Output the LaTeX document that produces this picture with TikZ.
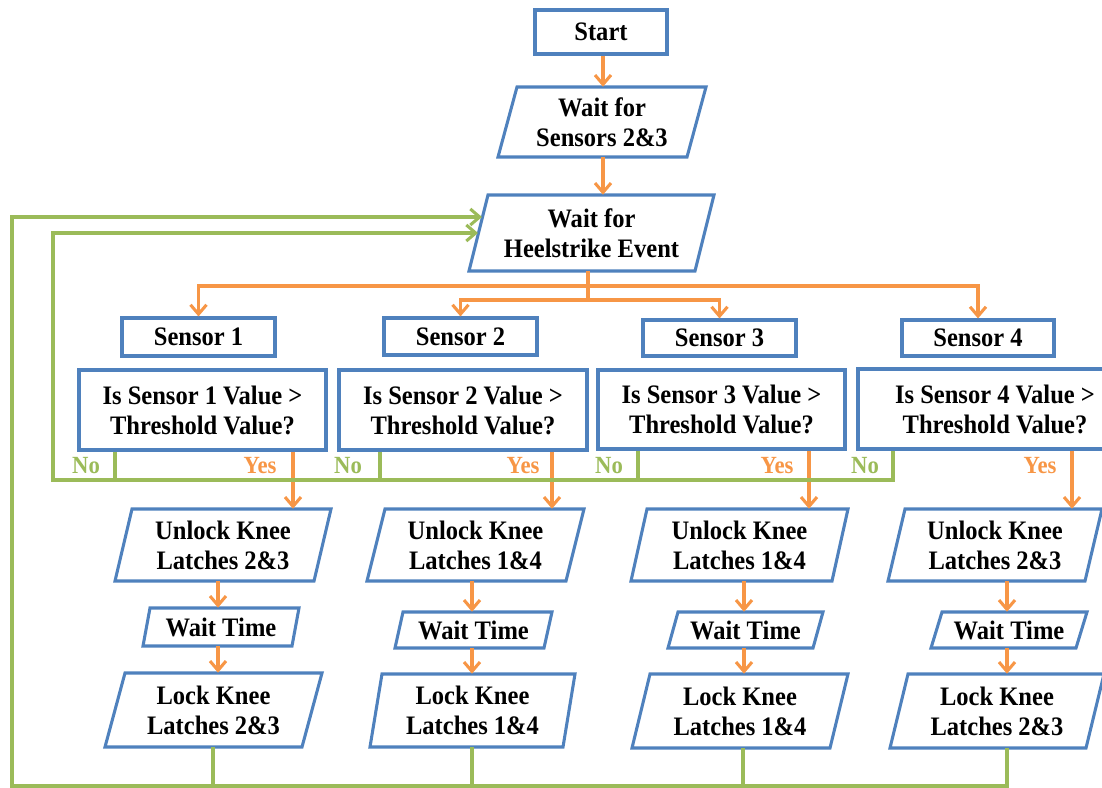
\documentclass[tikz,border=0pt]{standalone}
\usepackage{fontspec}
\setmainfont{Liberation Serif}[FakeStretch=0.92]
\usetikzlibrary{arrows.meta,calc}
\definecolor{bblue}{HTML}{4F81BD}
\definecolor{borange}{HTML}{F79646}
\definecolor{bgreen}{HTML}{9BBB59}
\newcommand\mainfnt{\fontsize{20pt}{22.5pt}\selectfont\bfseries}
\newcommand\lblfnt{\fontsize{18.5pt}{20pt}\selectfont\bfseries}
\tikzset{
  boxline/.style={draw=bblue, line width=2.3pt, line join=miter},
  rbox/.style={boxline, rectangle, inner sep=0pt, align=center, font=\mainfnt},
  ptext/.style={rectangle, inner sep=0pt, align=center, font=\mainfnt},
  oarr/.style={draw=borange, line width=2.3pt, -{Straight Barb[length=7pt,width=12pt]}},
  oline/.style={draw=borange, line width=2.3pt},
  garr/.style={draw=bgreen, line width=2.3pt, -{Straight Barb[length=7pt,width=12pt]}},
  gline/.style={draw=bgreen, line width=2.3pt},
  nolbl/.style={font=\lblfnt, inner sep=0pt, text=bgreen},
  yeslbl/.style={font=\lblfnt, inner sep=0pt, text=borange},
}
% parallelogram: name, x top-left, x top-right, x bottom-left, y top, y bottom, text
\newcommand\pgram[7]{%
  \pgfmathsetmacro\pgW{#3-#2}%
  \pgfmathsetmacro\pgH{#6-#5}%
  \pgfmathsetmacro\pgX{(#3+#4)/2}%
  \pgfmathsetmacro\pgY{(#5+#6)/2}%
  \pgfmathsetmacro\pgBR{#4+#3-#2}%
  \draw[boxline] (#2,#5) -- (#3,#5) -- (\pgBR,#6) -- (#4,#6) -- cycle;
  \node[ptext, minimum width=\pgW*0.75pt, minimum height=\pgH*0.75pt] (#1) at (\pgX,\pgY) {#7};
}
\begin{document}
\begin{tikzpicture}[x=0.75pt, y=-0.75pt]
\useasboundingbox (0,0) rectangle (1102,788);

% top
\node[rbox, minimum width=132*0.75pt, minimum height=44*0.75pt] (start) at (601,32) {Start};
\pgram{s23}{517}{706}{498}{87}{157}{Wait for\\Sensors 2\&3}
\pgram{heel}{488}{714}{469}{195}{271}{Wait for\\Heelstrike Event}

% sensors
\node[rbox, minimum width=153*0.75pt, minimum height=38*0.75pt] (sen1) at (198.5,337) {Sensor 1};
\node[rbox, minimum width=153*0.75pt, minimum height=37*0.75pt] (sen2) at (460.5,336.5) {Sensor 2};
\node[rbox, minimum width=153*0.75pt, minimum height=36*0.75pt] (sen3) at (719.5,338) {Sensor 3};
\node[rbox, minimum width=152*0.75pt, minimum height=36*0.75pt] (sen4) at (978,338) {Sensor 4};

% decisions
\node[rbox, minimum width=247*0.75pt, minimum height=80*0.75pt] (d1) at (202.5,410) {Is Sensor 1 Value >\\Threshold Value?};
\node[rbox, minimum width=248*0.75pt, minimum height=80*0.75pt] (d2) at (463,410) {Is Sensor 2 Value >\\Threshold Value?};
\node[rbox, minimum width=247*0.75pt, minimum height=79*0.75pt] (d3) at (721.5,409.5) {Is Sensor 3 Value >\\Threshold Value?};
\node[rbox, minimum width=274*0.75pt, minimum height=80*0.75pt] (d4) at (995,409) {Is Sensor 4 Value >\\Threshold Value?};

% columns
\pgram{u1}{132}{331}{115}{509}{581}{Unlock Knee\\Latches 2\&3}
\pgram{u2}{385}{584}{367}{509}{581}{Unlock Knee\\Latches 1\&4}
\pgram{u3}{647}{848}{631}{509}{581}{Unlock Knee\\Latches 1\&4}
\pgram{u4}{905}{1102}{888}{509}{581}{Unlock Knee\\Latches 2\&3}

\pgram{w1}{150}{299}{143}{608}{646}{Wait Time}
\pgram{w2}{403}{552}{395}{612}{648}{Wait Time}
\pgram{w3}{678}{823}{668}{612}{648}{Wait Time}
\pgram{w4}{942}{1087}{931}{612}{648}{Wait Time}

\pgram{l1}{125}{322}{105}{673}{747}{Lock Knee\\Latches 2\&3}
\pgram{l2}{382}{575}{370}{674}{747}{Lock Knee\\Latches 1\&4}
\pgram{l3}{650}{848}{632}{674}{748}{Lock Knee\\Latches 1\&4}
\pgram{l4}{908}{1104}{890}{674}{748}{Lock Knee\\Latches 2\&3}

% helper coordinates
\coordinate (j1) at (588,286);
\coordinate (j2) at (588,300);
\coordinate (y1) at (293,480); \coordinate (y2) at (552,480);
\coordinate (y3) at (809,480); \coordinate (y4) at (1072,480);
\coordinate (n1) at (115,480); \coordinate (n2) at (380,480);
\coordinate (n3) at (638,480); \coordinate (n4) at (893,480);
\coordinate (nl) at (53,480);
\coordinate (a1) at (218,0); \coordinate (a2) at (472,0);
\coordinate (a3) at (744,0); \coordinate (a4) at (1007,0);
\coordinate (g1) at (213,786); \coordinate (g2) at (472,786);
\coordinate (g3) at (743,786); \coordinate (g4) at (1007,786);
\coordinate (bl) at (12,786);
\coordinate (hin) at (478,233);
\coordinate (hout) at (482,217);

% top arrows
\draw[oarr] (start.south -| 603,0) -- (s23.north -| 603,0);
\draw[oarr] (s23.south -| 603,0) -- (heel.north -| 603,0);
\draw[oline] (heel.south -| j1) -- (j2);
\draw[oarr] (j1) -| (sen1.north);
\draw[oarr] (j1) -| (sen4.north);
\draw[oarr] (j2) -| (sen2.north);
\draw[oarr] (j2) -| (sen3.north);

% yes arrows
\draw[oarr] (d1.south -| y1) -- (u1.north -| y1);
\draw[oarr] (d2.south -| y2) -- (u2.north -| y2);
\draw[oarr] (d3.south -| y3) -- (u3.north -| y3);
\draw[oarr] (d4.south -| y4) -- (u4.north -| y4);

% column arrows
\foreach \c in {1,2,3,4}{
  \draw[oarr] (u\c.south -| a\c) -- (w\c.north -| a\c);
  \draw[oarr] (w\c.south -| a\c) -- (l\c.north -| a\c);
}

% no lines
\draw[gline] (d1.south -| n1) -- (n1);
\draw[gline] (d2.south -| n2) -- (n2);
\draw[gline] (d3.south -| n3) -- (n3);
\draw[garr] (d4.south -| n4) -- (n4) -- (nl) |- (hin);

% bottom return
\draw[gline] (l1.south -| g1) -- (g1);
\draw[gline] (l2.south -| g2) -- (g2);
\draw[gline] (l3.south -| g3) -- (g3);
\draw[garr] (l4.south -| g4) -- (g4) -- (bl) |- (hout);

% labels
\node[nolbl] (no1) at (86,466) {No};
\node[yeslbl] (yes1) at (260,466) {Yes};
\node[nolbl] (no2) at (348,466) {No};
\node[yeslbl] (yes2) at (523,466) {Yes};
\node[nolbl] (no3) at (609,466) {No};
\node[yeslbl] (yes3) at (777,466) {Yes};
\node[nolbl] (no4) at (865,466) {No};
\node[yeslbl] (yes4) at (1040,466) {Yes};
\end{tikzpicture}
\end{document}
